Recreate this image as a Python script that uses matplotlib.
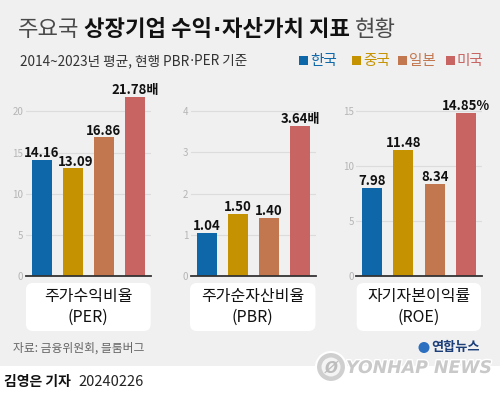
import matplotlib
matplotlib.use("Agg")
import matplotlib.pyplot as plt
from matplotlib.patches import Rectangle, FancyBboxPatch, Circle
import matplotlib.patheffects as pe
from matplotlib import font_manager

plt.rcParams['font.family'] = ['Noto Sans CJK KR', 'DejaVu Sans']

# ---- data ----
countries = ['한국', '중국', '일본', '미국']
per_values = [14.16, 13.09, 16.86, 21.78]
pbr_values = [1.04, 1.50, 1.40, 3.64]
roe_values = [7.98, 11.48, 8.34, 14.85]
panel_names = ['주가수익비율', '주가순자산비율', '자기자본이익률']
panel_codes = ['(PER)', '(PBR)', '(ROE)']
units = ['배', '배', '%']
per_ticks = [0, 5, 10, 15, 20]
pbr_ticks = [0, 1, 2, 3, 4]
roe_ticks = [0, 5, 10, 15]

installed = {f.name for f in font_manager.fontManager.ttflist}
num_family = (['Liberation Sans Narrow', 'Noto Sans CJK KR'] if 'Liberation Sans Narrow' in installed
              else ['Noto Sans CJK KR', 'DejaVu Sans'])
num_size = 11.5 if 'Liberation Sans Narrow' in installed else 9.5

colors = ['#0d67a9', '#c59201', '#c2774f', '#c86462']
W, H = 500, 397
fig = plt.figure(figsize=(W / 100, H / 100), dpi=100)
fig.patch.set_facecolor('white')

bg = fig.add_axes([0, 0, 1, 1], zorder=-5)
bg.set_xlim(0, W)
bg.set_ylim(H, 0)
bg.axis('off')
bg.add_patch(Rectangle((0, 0), W, 366, facecolor='#f0f0f0', edgecolor='none'))
renderer = fig.canvas.get_renderer()

def fx(x):
    return x / W

def fy(y):
    return 1 - y / H

def run_text(x, y, parts, size):
    """Draw consecutive text pieces: (text, weight, color, family, gap_after)."""
    for txt, wt, col, fam, gap in parts:
        kw = dict(fontsize=size, fontweight=wt, color=col, va='center', ha='left')
        if fam:
            kw['family'] = fam
        t = bg.text(x, y, txt, **kw)
        bb = t.get_window_extent(renderer)
        x = bb.x1 + gap
    return x

# ---- title ----
run_text(18, 30, [
    ('주요국', 'normal', '#4a4a4a', None, 5),
    ('상장기업 수익', 'bold', '#111111', None, 0.5),
    ('·', 'bold', '#111111', 'DejaVu Sans', 0.5),
    ('자산가치 지표', 'bold', '#111111', None, 5),
    ('현황', 'normal', '#4a4a4a', None, 0),
], 16)

run_text(20, 61, [
    ('2014~2023년 평균, 현행 PBR', 'normal', '#333333', None, 0.3),
    ('·', 'normal', '#333333', 'DejaVu Sans', 0.3),
    ('PER 기준', 'normal', '#333333', None, 0),
], 9.8)

legend_x = [299, 352, 398, 446]
for lx, name, c in zip(legend_x, countries, colors):
    bg.add_patch(Rectangle((lx, 56), 8.5, 8.5, facecolor=c, edgecolor='none'))
    bg.text(lx + 11, 60.5, name, fontsize=10.5, color=c, va='center', ha='left', fontweight='medium')

# ---- panels ----
panels = [
    (per_values, per_ticks, 26.2, 150.5, 22.0),
    (pbr_values, pbr_ticks, 191.1, 316.0, 4.388),
    (roe_values, roe_ticks, 356.4, 481.6, 16.45),
]
base_y = 276
top_y = 95
for i, (vals, ticks, x0, x1, ymax) in enumerate(panels):
    ax = fig.add_axes([fx(x0), fy(base_y), fx(x1) - fx(x0), (base_y - top_y) / H])
    ax.patch.set_alpha(0)
    xs = range(len(vals))
    ax.bar(xs, vals, width=0.64, color=colors, zorder=3)
    ax.set_xlim(-0.5, 3.5)
    ax.set_ylim(0, ymax)
    ax.set_yticks(ticks)
    ax.set_xticks([])
    ax.tick_params(axis='y', length=0, labelsize=7, labelcolor='#b5b5b5', pad=2)
    for t in ticks[1:]:
        ax.axhline(t, color='#dcdcdc', lw=0.8, zorder=1)
    for s in ['left', 'right', 'top']:
        ax.spines[s].set_visible(False)
    ax.spines['bottom'].set_color('#333333')
    ax.spines['bottom'].set_linewidth(1.3)
    ax.spines['bottom'].set_zorder(4)
    for j, v in enumerate(vals):
        label = f'{v:.2f}' + (units[i] if j == len(vals) - 1 else '')
        dx = 2 if (i == 0 and j == 1) else 0
        ax.annotate(label, (j, v), xytext=(dx, 2), textcoords='offset points',
                    ha='center', va='baseline', fontsize=num_size, fontweight='bold',
                    family=num_family,
                    color='#111111', annotation_clip=False, zorder=5)

# ---- panel name boxes ----
box_x = [(26, 150.7), (190, 315.5), (356.7, 481)]
for (bx0, bx1), nm, cd in zip(box_x, panel_names, panel_codes):
    bg.add_patch(FancyBboxPatch((bx0 + 7, 283 + 7), bx1 - bx0 - 14, 48 - 14,
                                boxstyle='round,pad=7', facecolor='white', edgecolor='none'))
    cx = (bx0 + bx1) / 2
    bg.text(cx, 297, nm, fontsize=11.5, color='#111111', ha='center', va='center', fontweight='medium')
    bg.text(cx, 317, cd, fontsize=11.5, color='#111111', ha='center', va='center', fontweight='medium')

# ---- source & credit ----
bg.text(13, 348, '자료: 금융위원회, 블룸버그', fontsize=8.5, color='#666666', ha='left', va='center')
t = bg.text(4, 382, '김영은 기자', fontsize=10, fontweight='bold', color='#111111', ha='left', va='center')
bb = t.get_window_extent(renderer)
bg.text(bb.x1 + 8, 382, '20240226', fontsize=10.5, color='#222222', ha='left', va='center')

# ---- logo ----
bg.add_patch(Circle((331, 367), 15, facecolor='#cfcfcf', edgecolor='white', lw=1.5))
bg.add_patch(Circle((331, 367), 9.5, facecolor='#f4f4f4', edgecolor='none'))
bg.text(331, 368, 'Ø', fontsize=11, fontweight='bold', style='italic', color='#bdbdbd',
        ha='center', va='center', family='DejaVu Sans')
bg.text(419, 368, 'YONHAP NEWS', fontsize=12.5, fontweight='heavy', style='italic',
        color='#c9c9c9', ha='center', va='center', family='DejaVu Sans',
        path_effects=[pe.withStroke(linewidth=2, foreground='white')])
bg.add_patch(Circle((424, 347.5), 5.5, facecolor='#2a6fc0', edgecolor='none'))
bg.text(431, 347.5, '연합뉴스', fontsize=9.5, fontweight='bold', color='#1c3f7a', ha='left', va='center')

fig.savefig('out.png', dpi=100, facecolor=fig.get_facecolor())
